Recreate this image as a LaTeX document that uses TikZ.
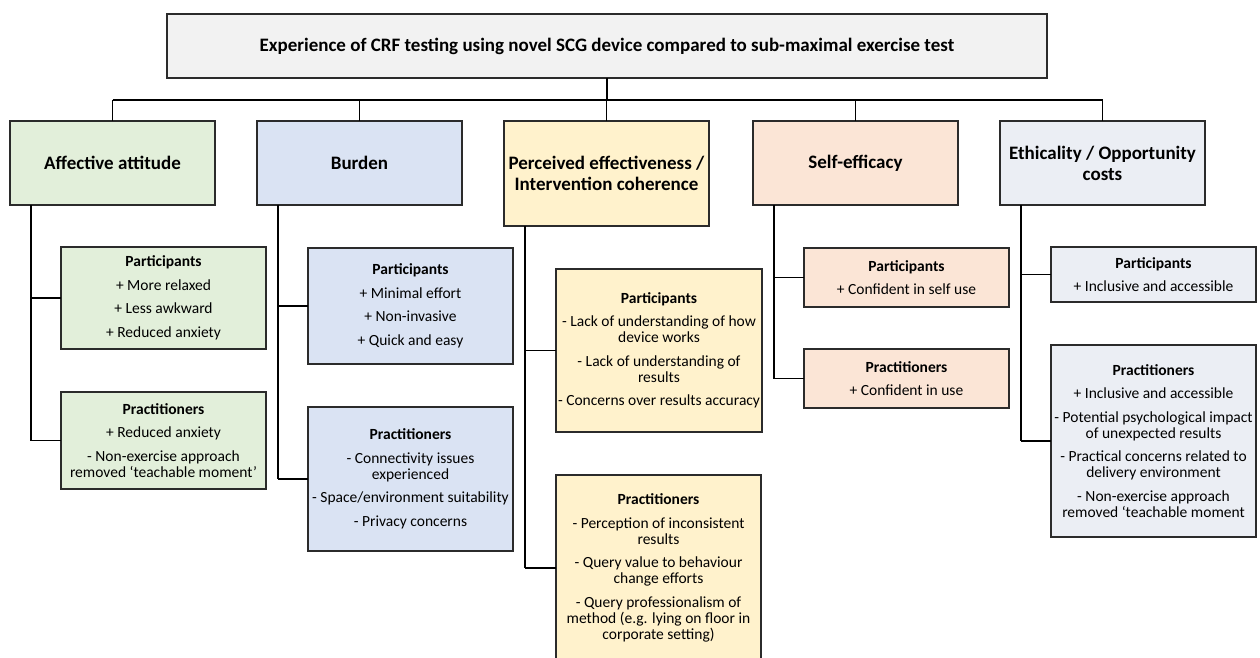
\documentclass[tikz,border=0pt]{standalone}
\usepackage{fontspec}
\setmainfont{Carlito}
\usetikzlibrary{positioning}
\definecolor{ttlfill}{HTML}{F2F2F2}
\definecolor{afffill}{HTML}{E2EFDA}
\definecolor{burfill}{HTML}{DAE3F3}
\definecolor{efffill}{HTML}{FFF2CC}
\definecolor{slffill}{HTML}{FBE5D6}
\definecolor{ethfill}{HTML}{EBEEF4}
\definecolor{edge}{HTML}{2B2B2B}
\tikzset{
  box/.style={draw=edge, line width=1.3pt, anchor=north west, align=center,
    inner sep=2pt, outer sep=0pt},
  theme/.style={box, minimum width=205pt, minimum height=84pt,
    font=\fontsize{19}{21}\selectfont\bfseries},
  sub/.style={box, minimum width=205pt, font=\fontsize{15.5}{16}\selectfont}
}
\newcommand{\gap}{\\[7.5pt]}

\begin{document}
\begin{tikzpicture}[x=1pt, y=-1pt,
    bus/.style={line width=2pt},
    drop/.style={line width=1.1pt},
    side/.style={line width=2pt},
    branch/.style={line width=1.3pt}]

    \useasboundingbox (0,0) rectangle (1260,657);

    % title
    \node[box, fill=ttlfill, minimum width=880pt, minimum height=64pt,
      font=\fontsize{19}{22}\selectfont\bfseries] (title) at (167,14)
      {Experience of CRF testing using novel SCG device compared to sub-maximal exercise test};

    % themes
    \node[theme, fill=afffill] (aff) at (10,121) {Affective attitude};
    \node[theme, fill=burfill] (bur) at (257,121) {Burden};
    \node[theme, fill=efffill, minimum height=105pt] (eff) at (504,121)
      {Perceived effectiveness /\\Intervention coherence};
    \node[theme, fill=slffill] (slf) at (753,121) {Self-efficacy};
    \node[theme, fill=ethfill] (eth) at (1000,121) {Ethicality / Opportunity\\costs};

    % participants / practitioners
    \node[sub, fill=afffill, minimum height=102pt] (affpa) at (61,247)
      {\textbf{Participants}\gap + More relaxed\gap + Less awkward\gap + Reduced anxiety};
    \node[sub, fill=afffill, minimum height=97pt] (affpr) at (61,392)
      {\textbf{Practitioners}\gap + Reduced anxiety\gap - Non-exercise approach\\removed ‘teachable moment’};

    \node[sub, fill=burfill, minimum height=116pt] (burpa) at (308,248)
      {\textbf{Participants}\gap + Minimal effort\gap + Non-invasive\gap + Quick and easy};
    \node[sub, fill=burfill, minimum height=144pt] (burpr) at (308,407)
      {\textbf{Practitioners}\gap - Connectivity issues\\experienced\gap - Space/environment suitability\gap - Privacy concerns};

    \node[sub, fill=efffill, minimum height=163pt] (effpa) at (556,269)
      {\textbf{Participants}\gap - Lack of understanding of how\\device works\gap - Lack of understanding of\\results\gap - Concerns over results accuracy};
    \node[sub, fill=efffill, minimum height=186pt] (effpr) at (556,475)
      {\textbf{Practitioners}\gap - Perception of inconsistent\\results\gap - Query value to behaviour\\change efforts\gap - Query professionalism of\\method (e.g. lying on floor in\\corporate setting)};

    \node[sub, fill=slffill, minimum height=59pt] (slfpa) at (804,248)
      {\textbf{Participants}\gap + Confident in self use};
    \node[sub, fill=slffill, minimum height=59pt] (slfpr) at (804,349)
      {\textbf{Practitioners}\gap + Confident in use};

    \node[sub, fill=ethfill, minimum height=55pt] (ethpa) at (1051,247)
      {\textbf{Participants}\gap + Inclusive and accessible};
    \node[sub, fill=ethfill, minimum height=192pt] (ethpr) at (1051,345)
      {\textbf{Practitioners}\gap + Inclusive and accessible\gap - Potential psychological impact\\of unexpected results\gap - Practical concerns related to\\delivery environment\gap - Non-exercise approach\\removed ‘teachable moment};

    % tree
    \coordinate (hub) at (607,100);
    \draw[bus] (title.south) -- (hub);
    \draw[bus] (aff.north |- hub) -- (eth.north |- hub);
    \foreach \t in {aff,bur,eff,slf,eth}
        \draw[drop] (\t.north |- hub) -- (\t.north);

    \foreach \t/\pa/\pr in {aff/affpa/affpr, bur/burpa/burpr, eff/effpa/effpr,
                            slf/slfpa/slfpr, eth/ethpa/ethpr} {
        \coordinate (\t-x) at ([xshift=21pt]\t.south west);
        \draw[side] (\t-x) -- (\t-x |- \pr.west);
        \draw[branch] (\t-x |- \pa.west) -- (\pa.west);
        \draw[branch] (\t-x |- \pr.west) -- (\pr.west);
    }

\end{tikzpicture}
\end{document}
